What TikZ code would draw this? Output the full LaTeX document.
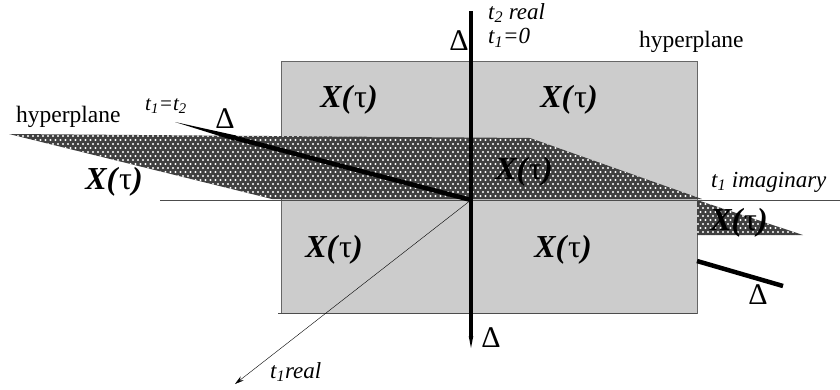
\documentclass[tikz,border=0pt]{standalone}
\usepackage{fontspec}
\setmainfont{Liberation Serif}
\usetikzlibrary{arrows.meta, patterns}
\newcommand{\Xtau}{\textbf{\textit{X(}}τ\textbf{\textit{)}}}
\pgfdeclarepatternformonly{meshdots}{\pgfqpoint{-1pt}{-1pt}}{\pgfqpoint{4.5pt}{7pt}}{\pgfqpoint{5pt}{8pt}}{
    \pgfpathcircle{\pgfqpoint{0.5pt}{1pt}}{1.1pt}
    \pgfpathcircle{\pgfqpoint{3pt}{5pt}}{1.1pt}
    \pgfusepath{fill}
}
\tikzstyle{plane} = [
    fill=black!20,
    draw=black!60,
    line width=1pt
]
\tikzstyle{hatched} = [
    preaction={fill=black!75},
    pattern=meshdots,
    pattern color=white
]
\tikzstyle{axis} = [
    draw=black!70,
    line width=0.8pt
]
\tikzstyle{delta} = [
    line width=4.5pt,
    draw=black
]
\tikzstyle{arrow} = [thin,-{Stealth[length=9pt,width=5pt]}]
\tikzstyle{label} = [font=\fontsize{23.5}{26}\selectfont, inner sep=0pt]
\tikzstyle{dlabel} = [font=\fontsize{30}{32}\selectfont, inner sep=0pt]
\tikzstyle{xlabel} = [font=\fontsize{32}{34}\selectfont, inner sep=0pt]
\tikzstyle{tlabel} = [font=\fontsize{23}{26}\selectfont\itshape, inner sep=0pt]

\begin{document}
\begin{tikzpicture}[x=1pt,y=-1pt]
\useasboundingbox (0,0) rectangle (840,389);

\coordinate (origin) at (471,200);
\coordinate (axisleft) at (160,200);
\coordinate (axisright) at (840,200);
\coordinate (deltatop) at (471,11);
\coordinate (deltabottom) at (471,336);
\coordinate (bottomleft) at (468.7,336);
\coordinate (bottomright) at (473.3,336);
\coordinate (deltatip) at (471,348);
\coordinate (deltaleft) at (175,122);
\coordinate (deltamid) at (235,138);
\coordinate (deltaupper) at (236,135.5);
\coordinate (deltalower) at (234,140.5);
\coordinate (deltaright) at (697,261);
\coordinate (deltaend) at (783,286);
\coordinate (realend) at (235,384);
\coordinate (baseleft) at (278,313);
\coordinate (baseright) at (697,313);

\draw [plane] (281,61) rectangle (697,313);
\draw [axis] (baseleft) -- (baseright);

\fill [hatched] (9,134) -- (530,138) -- (702,199) -- (272,199) -- cycle;
\fill [hatched] (697,200) -- (803,235) -- (697,235) -- cycle;

\draw [axis] (axisleft) -- (axisright);
\draw [arrow] (origin) -- (realend);

\draw [delta] (deltatop) -- (deltabottom);
\fill (bottomleft) -- (bottomright) -- (deltatip) -- cycle;
\draw [delta] (origin) -- (deltamid);
\fill (deltaleft) -- (deltaupper) -- (deltalower) -- cycle;
\draw [delta] (deltaright) -- (deltaend);

\node (hyperleft) [label, anchor=west] at (16,117) {hyperplane};
\node (hyperright) [label, anchor=west] at (639,42) {hyperplane};

\node (deltaa) [dlabel] at (459,41) {Δ};
\node (deltab) [dlabel] at (225,119) {Δ};
\node (deltac) [dlabel] at (491,338) {Δ};
\node (deltad) [dlabel] at (758,295) {Δ};

\node (xa) [xlabel] at (349,100) {\Xtau};
\node (xb) [xlabel] at (569,100) {\Xtau};
\node (xc) [xlabel] at (114,182) {\Xtau};
\node (xd) [xlabel] at (524,172) {\Xtau};
\node (xe) [xlabel] at (334,250) {\Xtau};
\node (xf) [xlabel] at (563,250) {\Xtau};
\node (xg) [xlabel] at (739,223) {\Xtau};

\node (tequal) [tlabel, anchor=west, font=\fontsize{21}{24}\selectfont\itshape] at (145,106) {t\textsubscript{1}=t\textsubscript{2}};
\node (treal) [tlabel, anchor=west] at (488,13) {t\textsubscript{2} real};
\node (tzero) [tlabel, anchor=west] at (488,38) {t\textsubscript{1}=0};
\node (timag) [tlabel, anchor=west] at (711,182) {t\textsubscript{1} imaginary};
\node (tone) [tlabel, anchor=west] at (270,372) {t\textsubscript{1}real};

\end{tikzpicture}
\end{document}
